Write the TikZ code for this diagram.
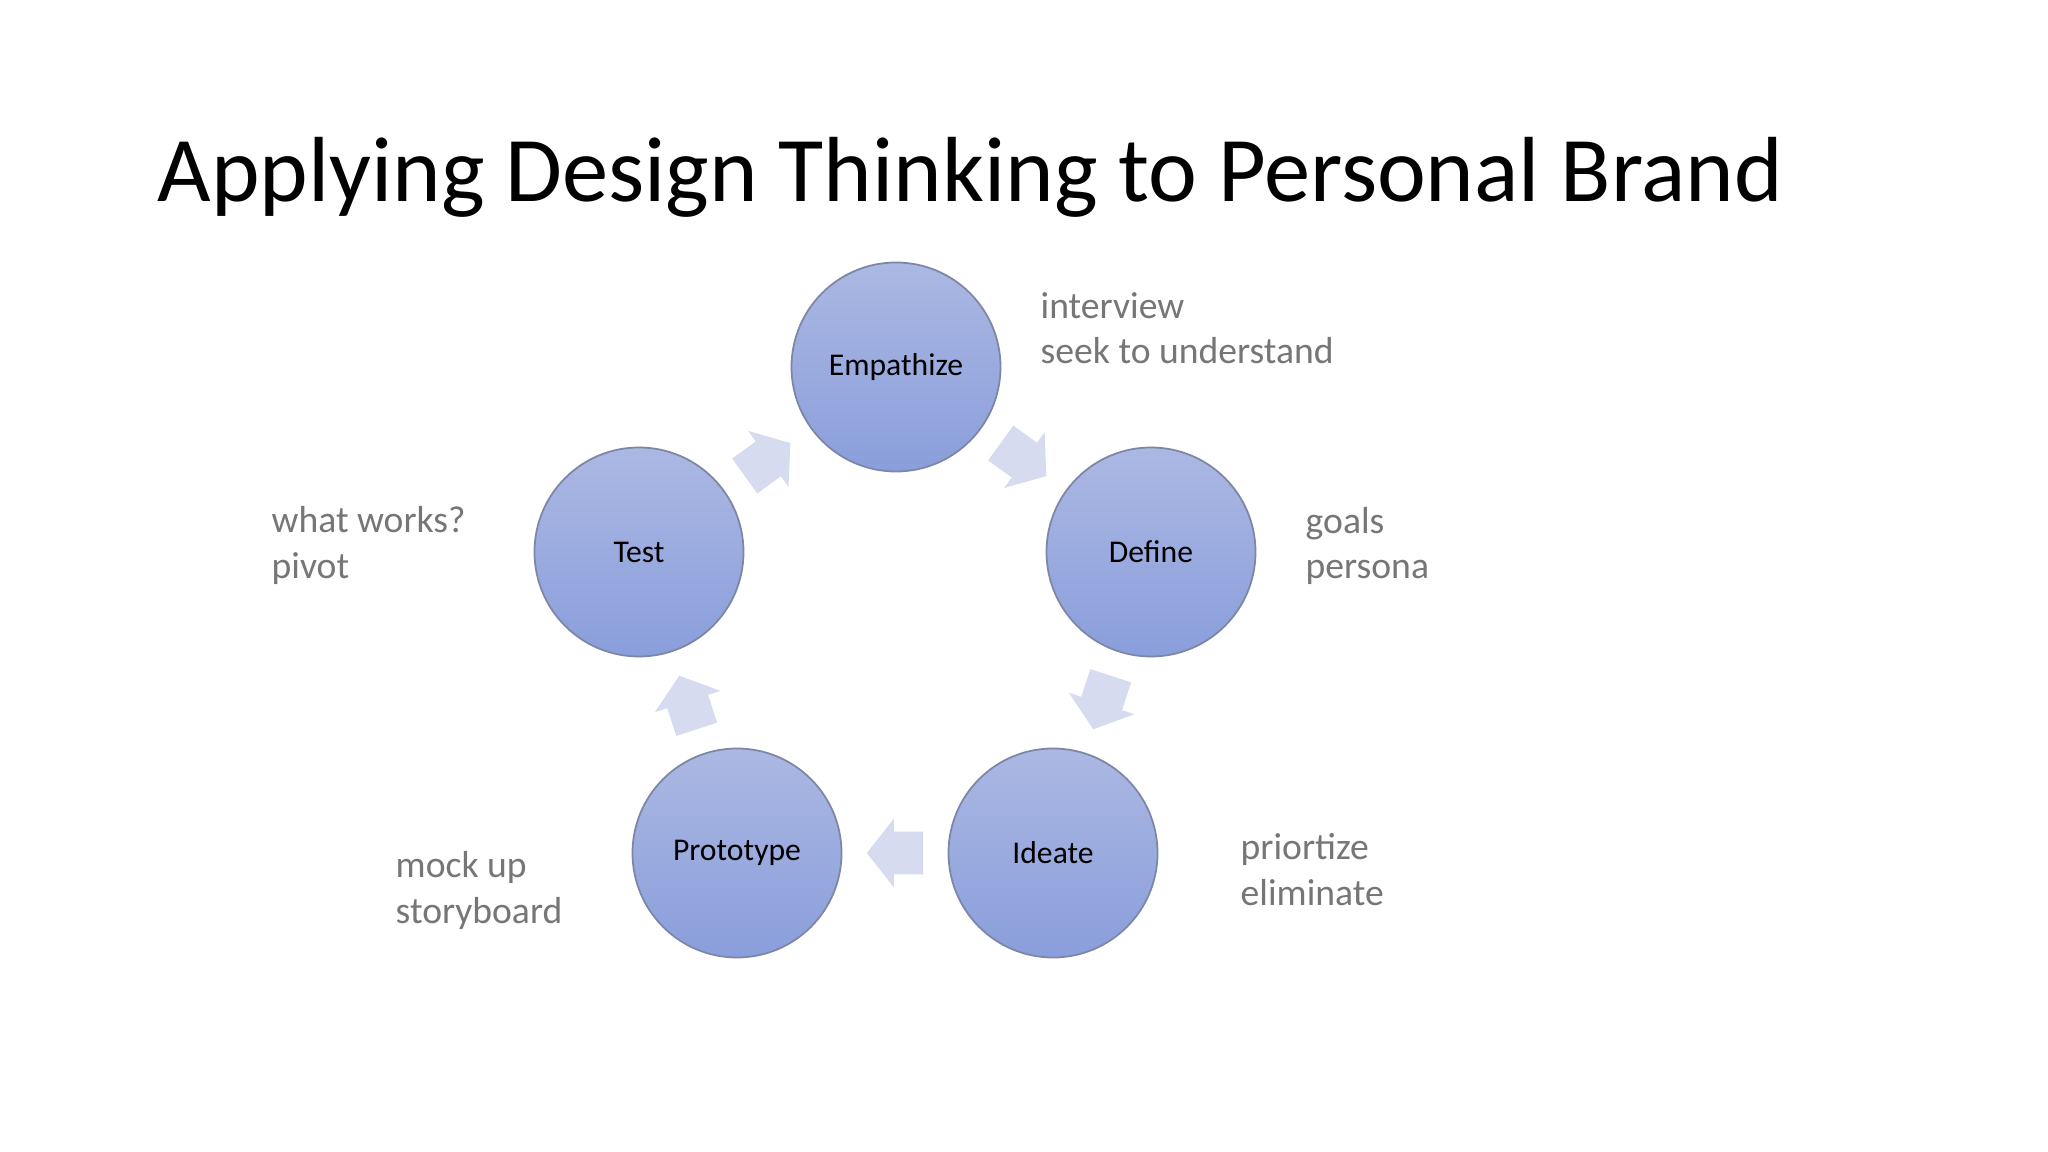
\documentclass[tikz,border=0pt]{standalone}
\usepackage{fontspec}
\setmainfont{Carlito}
\usetikzlibrary{calc}
\definecolor{circtop}{RGB}{172,184,227}
\definecolor{circbot}{RGB}{137,158,219}
\definecolor{circline}{RGB}{125,135,165}
\definecolor{arrowcol}{RGB}{214,219,239}
\definecolor{notegray}{RGB}{118,118,118}
\newlength\pxu
\setlength\pxu{0.01cm}
\tikzset{
  stage/.style={circle, minimum size=209\pxu, inner sep=0pt, top color=circtop, bottom color=circbot, draw=circline, line width=0.5pt, font=\fontsize{9}{11}\selectfont, text=black},
  note/.style={anchor=base west, align=left, inner sep=0pt, text=notegray, font=\fontsize{10.7}{13}\selectfont},
  arrowfill/.style={fill=arrowcol}
}
\newcommand\cycarrow[2]{%
  \fill[arrowfill] let \p1=($(#2)-(#1)$), \n1={atan2(\y1,\x1)}, \p0=($(#1)!0.5!(#2)$) in
    ($(\p0)+(\n1:8pt)$)
    -- ($(\p0)+(\n1:0.3pt)+(\n1+90:9.8pt)$)
    -- ($(\p0)+(\n1:0.3pt)+(\n1+90:6.1pt)$)
    -- ($(\p0)+(\n1+180:8pt)+(\n1+90:6.1pt)$)
    -- ($(\p0)+(\n1+180:8pt)+(\n1-90:6.1pt)$)
    -- ($(\p0)+(\n1:0.3pt)+(\n1-90:6.1pt)$)
    -- ($(\p0)+(\n1:0.3pt)+(\n1-90:9.8pt)$)
    -- cycle;}
\begin{document}
\begin{tikzpicture}[x=0.01cm, y=-0.01cm]
  \path[fill=white] (0,0) rectangle (2048,1152);
  \useasboundingbox (0,0) rectangle (2048,1152);
  \node[anchor=base west, inner sep=0pt, font=\fontsize{26.3}{30}\selectfont] (title) at (157,202) {Applying Design Thinking to Personal Brand};

  \node[stage] (emp) at (896,367) {Empathize};
  \node[stage] (def) at (1151,552) {Define};
  \node[stage] (ide) at (1053,853) {Ideate};
  \node[stage] (pro) at (737,853) {Prototype};
  \node[stage] (tes) at (639,552) {Test};

  \cycarrow{tes}{emp}
  \cycarrow{emp}{def}
  \cycarrow{def}{ide}
  \cycarrow{ide}{pro}
  \cycarrow{pro}{tes}

  \node[note] (n1) at (1040,364) {interview\\seek to understand};
  \node[note] (n2) at (1305,579) {goals\\persona};
  \node[note] (n3) at (1240,905) {priortize\\eliminate};
  \node[note] (n4) at (395,923) {mock up\\storyboard};
  \node[note] (n5) at (271,578) {what works?\\pivot};
\end{tikzpicture}
\end{document}
